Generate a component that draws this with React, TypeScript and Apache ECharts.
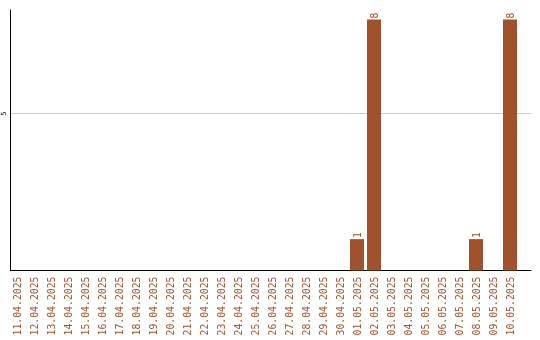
import React, { useEffect, useRef } from "react";
import * as echarts from "echarts";

const dates = [
  "11.04.2025", "12.04.2025", "13.04.2025", "14.04.2025", "15.04.2025",
  "16.04.2025", "17.04.2025", "18.04.2025", "19.04.2025", "20.04.2025",
  "21.04.2025", "22.04.2025", "23.04.2025", "24.04.2025", "25.04.2025",
  "26.04.2025", "27.04.2025", "28.04.2025", "29.04.2025", "30.04.2025",
  "01.05.2025", "02.05.2025", "03.05.2025", "04.05.2025", "05.05.2025",
  "06.05.2025", "07.05.2025", "08.05.2025", "09.05.2025", "10.05.2025",
];

const counts = [
  0, 0, 0, 0, 0, 0, 0, 0, 0, 0,
  0, 0, 0, 0, 0, 0, 0, 0, 0, 0,
  1, 8, 0, 0, 0, 0, 0, 1, 0, 8,
];

const Y_MAX = 8.3;
const Y_STEP = 5;

const BAR = "#a0522d";
const MONO = "'DejaVu Sans Mono', 'Liberation Mono', monospace";

export default function App() {
  const ref = useRef<HTMLDivElement>(null);

  useEffect(() => {
    if (!ref.current) return;
    const chart = echarts.init(ref.current, null, { renderer: "svg" });
    chart.setOption({
      animation: false,
      grid: [
        // bars and date labels
        { left: 8.5, right: 21.5, top: 10, bottom: 69.5 },
        // frame: axis lines and the grid line
        { left: 10.5, right: 9, top: 10, bottom: 69.5 },
      ],
      xAxis: [
        {
          type: "category",
          gridIndex: 0,
          data: dates,
          axisLine: { show: false },
          axisTick: { show: false },
          axisLabel: {
            rotate: 90,
            interval: 0,
            color: BAR,
            fontFamily: MONO,
            fontSize: 9.8,
            margin: 6,
          },
        },
        {
          type: "value",
          gridIndex: 1,
          min: 0,
          max: 1,
          axisLine: { show: true, onZero: false, lineStyle: { color: "#000", width: 1 } },
          axisTick: { show: false },
          axisLabel: { show: false },
          splitLine: { show: false },
        },
      ],
      yAxis: [
        {
          type: "value",
          gridIndex: 0,
          min: 0,
          max: Y_MAX,
          show: false,
          splitLine: { show: false },
        },
        {
          type: "value",
          gridIndex: 1,
          min: 0,
          max: Y_MAX,
          interval: Y_STEP,
          axisLine: { show: true, lineStyle: { color: "#000", width: 1 } },
          axisTick: { show: false },
          splitLine: {
            show: true,
            showMinLine: false,
            showMaxLine: false,
            lineStyle: { color: "#cccccc", width: 1 },
          },
          axisLabel: {
            rotate: 90,
            color: "#000",
            fontFamily: MONO,
            fontSize: 7,
            margin: 3,
            showMinLabel: false,
            showMaxLabel: false,
          },
        },
      ],
      series: [
        {
          type: "bar",
          xAxisIndex: 0,
          yAxisIndex: 0,
          data: counts,
          barWidth: 14,
          itemStyle: { color: BAR },
          label: {
            show: true,
            position: "top",
            rotate: 90,
            align: "left",
            verticalAlign: "middle",
            distance: 1,
            color: BAR,
            fontFamily: MONO,
            fontSize: 9.6,
            formatter: (p: any) => (p.value > 0 ? String(p.value) : ""),
          },
        },
      ],
    });
    return () => chart.dispose();
  }, []);

  return (
    <div
      ref={ref}
      style={{ position: "fixed", left: 0, top: 0, width: 540, height: 340 }}
    />
  );
}
